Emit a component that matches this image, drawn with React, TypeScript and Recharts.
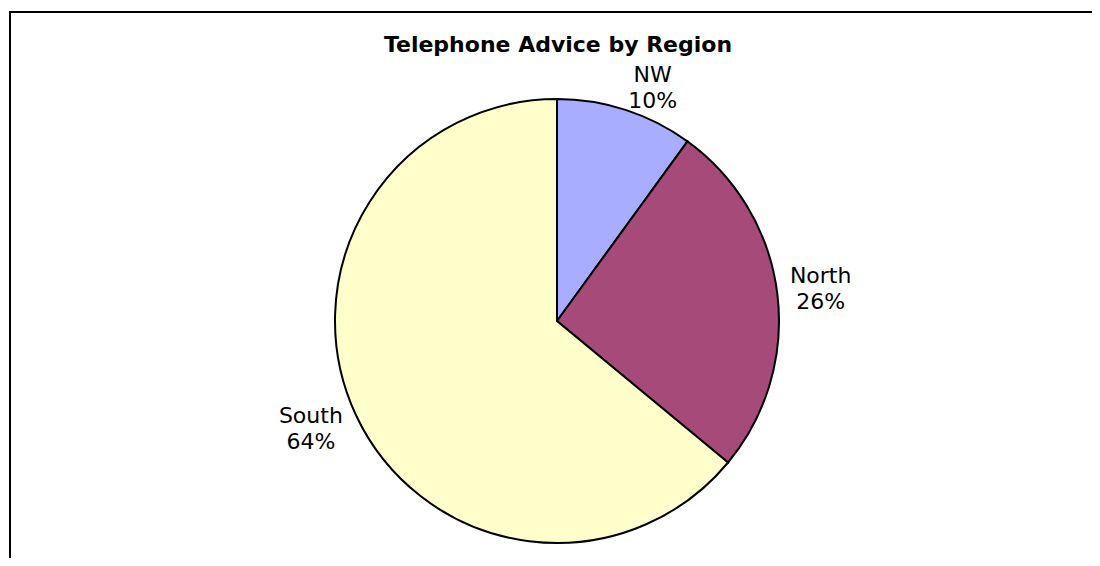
import { PieChart, Pie, Cell } from "recharts";

// Telephone advice share by region
const regions = ["NW", "North", "South"];
const shares = [10, 26, 64];
const sliceColors = ["#A9ADFF", "#A64A79", "#FFFFCC"];

const data = regions.map((name, i) => ({ name, value: shares[i] }));

const FONT = "'DejaVu Sans', Verdana, sans-serif";
const RAD = Math.PI / 180;

// outside-end labels, two lines (name / percent); label boxes are wider
// than tall, so they sit further out when the slice points sideways
function SliceLabel(props: any) {
  const { cx, cy, midAngle, outerRadius, name, percent } = props;
  const cos = Math.cos(midAngle * RAD);
  const sin = Math.sin(midAngle * RAD);
  const dist = outerRadius - 6 + 47 * Math.abs(cos) + 16 * sin;
  const x = cx + dist * cos - 5 + 25 * sin + 3 * cos;
  const y = cy - dist * sin;
  return (
    <text x={x} y={y} textAnchor="middle" fontFamily={FONT} fontSize={22} fill="#000">
      <tspan x={x} dy={-5}>
        {name}
      </tspan>
      <tspan x={x} dy={26}>
        {`${Math.round(percent * 100)}%`}
      </tspan>
    </text>
  );
}

export default function App() {
  return (
    <div
      style={{
        position: "relative",
        width: 1084,
        height: 550,
        overflow: "hidden",
        fontFamily: FONT,
      }}
    >
      <div
        style={{
          position: "absolute",
          left: 1,
          top: 3,
          width: 2000,
          height: 2000,
          borderTop: "2px solid #000",
          borderLeft: "2px solid #000",
        }}
      />
      <div
        style={{
          position: "absolute",
          left: 0,
          width: 1100,
          top: 24,
          textAlign: "center",
          fontWeight: "bold",
          fontSize: 22,
          lineHeight: "26px",
          color: "#000",
        }}
      >
        Telephone Advice by Region
      </div>
      <div style={{ position: "absolute", left: 0, top: 0 }}>
        <PieChart width={1084} height={550} margin={{ top: 0, right: 0, bottom: 0, left: 0 }}>
          <Pie
            data={data}
            dataKey="value"
            nameKey="name"
            cx={549}
            cy={313}
            outerRadius={222}
            startAngle={90}
            endAngle={-270}
            stroke="#000"
            strokeWidth={2}
            label={SliceLabel}
            labelLine={false}
            isAnimationActive={false}
          >
            {data.map((d, i) => (
              <Cell key={d.name} fill={sliceColors[i]} />
            ))}
          </Pie>
        </PieChart>
      </div>
    </div>
  );
}
